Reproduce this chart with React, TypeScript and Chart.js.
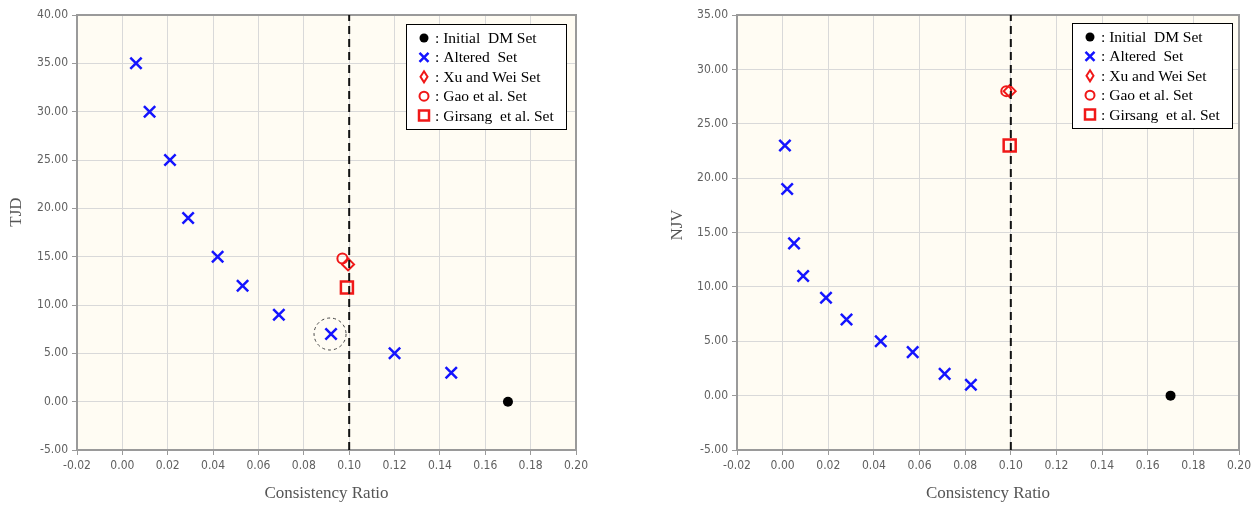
import React, { useEffect, useRef } from "react";
import { Chart, registerables } from "chart.js";

Chart.register(...registerables);

// ---------- data ----------
const xAxisTitle = "Consistency Ratio";
const leftYTitle = "TJD";
const rightYTitle = "NJV";
const thresholdCR = 0.1;

const leftInitialX = [0.17];
const leftInitialY = [0];
const leftAlteredX = [0.006, 0.012, 0.021, 0.029, 0.042, 0.053, 0.069, 0.092, 0.12, 0.145];
const leftAlteredY = [35, 30, 25, 19, 15, 12, 9, 7, 5, 3];
const leftXuWeiX = [0.0995];
const leftXuWeiY = [14.2];
const leftGaoX = [0.097];
const leftGaoY = [14.8];
const leftGirsangX = [0.099];
const leftGirsangY = [11.8];
const leftHighlightX = 0.092;
const leftHighlightY = 7;

const rightInitialX = [0.17];
const rightInitialY = [0];
const rightAlteredX = [0.001, 0.002, 0.005, 0.009, 0.019, 0.028, 0.043, 0.057, 0.071, 0.0825];
const rightAlteredY = [23, 19, 14, 11, 9, 7, 5, 4, 2, 1];
const rightXuWeiX = [0.0995];
const rightXuWeiY = [28];
const rightGaoX = [0.098];
const rightGaoY = [28];
const rightGirsangX = [0.0995];
const rightGirsangY = [23];

const legendLabels = [
  ": Initial  DM Set",
  ": Altered  Set",
  ": Xu and Wei Set",
  ": Gao et al. Set",
  ": Girsang  et al. Set",
];

// ---------- styles ----------
const tickFont = "'Liberation Sans Narrow', 'DejaVu Sans Condensed', 'Liberation Sans', sans-serif";
const serifFont = "'Liberation Serif', 'DejaVu Serif', serif";
const BLUE = "#1414ff";
const RED = "#f01818";

const pts = (xs: number[], ys: number[]) => xs.map((x, i) => ({ x, y: ys[i] }));

function drawMarker(ctx: CanvasRenderingContext2D, kind: number, x: number, y: number) {
  ctx.save();
  ctx.beginPath();
  if (kind === 0) {
    ctx.fillStyle = "#000";
    ctx.arc(x, y, 4.5, 0, Math.PI * 2);
    ctx.fill();
  } else if (kind === 1) {
    ctx.strokeStyle = BLUE;
    ctx.lineWidth = 2.5;
    ctx.moveTo(x - 4.5, y - 4.5);
    ctx.lineTo(x + 4.5, y + 4.5);
    ctx.moveTo(x + 4.5, y - 4.5);
    ctx.lineTo(x - 4.5, y + 4.5);
    ctx.stroke();
  } else if (kind === 2) {
    ctx.strokeStyle = RED;
    ctx.lineWidth = 2;
    ctx.moveTo(x, y - 5.5);
    ctx.lineTo(x + 3.5, y);
    ctx.lineTo(x, y + 5.5);
    ctx.lineTo(x - 3.5, y);
    ctx.closePath();
    ctx.stroke();
  } else if (kind === 3) {
    ctx.strokeStyle = RED;
    ctx.lineWidth = 2;
    ctx.arc(x, y, 4.5, 0, Math.PI * 2);
    ctx.stroke();
  } else {
    ctx.strokeStyle = RED;
    ctx.lineWidth = 2.5;
    ctx.rect(x - 5, y - 5, 10, 10);
    ctx.stroke();
  }
  ctx.restore();
}

function decorPlugin(
  legendOffR: number,
  legendOffT: number,
  highlight: { x: number; y: number } | null,
  yTitle: string,
  yTitleX: number,
  yTitleY: number
) {
  return {
    id: "decor",
    beforeDraw(chart: any) {
      const { ctx, chartArea: a } = chart;
      ctx.save();
      ctx.fillStyle = "#fffcf3";
      ctx.fillRect(a.left, a.top, a.right - a.left, a.bottom - a.top);
      ctx.restore();
    },
    beforeDatasetsDraw(chart: any) {
      const { ctx, chartArea: a } = chart;
      ctx.save();
      ctx.strokeStyle = "#9a9a9a";
      ctx.lineWidth = 2;
      ctx.beginPath();
      ctx.moveTo(a.left, a.top);
      ctx.lineTo(a.right, a.top);
      ctx.lineTo(a.right, a.bottom);
      ctx.stroke();
      ctx.restore();
    },
    afterDatasetsDraw(chart: any) {
      if (!highlight) return;
      const { ctx, scales } = chart;
      const cx = scales.x.getPixelForValue(highlight.x);
      const cy = scales.y.getPixelForValue(highlight.y);
      ctx.save();
      ctx.strokeStyle = "#444";
      ctx.lineWidth = 1;
      ctx.setLineDash([3, 3]);
      ctx.beginPath();
      ctx.arc(cx - 1, cy, 16, 0, Math.PI * 2);
      ctx.stroke();
      ctx.restore();
    },
    afterDraw(chart: any) {
      const { ctx, chartArea: a } = chart;
      // y axis title
      ctx.save();
      ctx.translate(yTitleX, yTitleY);
      ctx.rotate(-Math.PI / 2);
      ctx.font = `17px ${serifFont}`;
      ctx.fillStyle = "#555";
      ctx.textAlign = "center";
      ctx.textBaseline = "middle";
      ctx.fillText(yTitle, 0, 0);
      ctx.restore();

      // legend
      const w = 160;
      const h = 105;
      const bx = Math.round(a.right - legendOffR - w);
      const by = Math.round(a.top + legendOffT);
      ctx.save();
      ctx.fillStyle = "#ffffff";
      ctx.fillRect(bx, by, w, h);
      ctx.strokeStyle = "#000";
      ctx.lineWidth = 1;
      ctx.strokeRect(bx + 0.5, by + 0.5, w, h);
      ctx.font = `15.5px ${serifFont}`;
      ctx.textBaseline = "middle";
      ctx.textAlign = "left";
      legendLabels.forEach((label, i) => {
        const cy = by + 14 + i * 19.4;
        drawMarker(ctx, i, bx + 18, cy);
        ctx.fillStyle = "#000";
        ctx.fillText(label, bx + 29, cy + 1);
      });
      ctx.restore();
    },
  };
}

interface Panel {
  initial: { x: number; y: number }[];
  altered: { x: number; y: number }[];
  xuwei: { x: number; y: number }[];
  gao: { x: number; y: number }[];
  girsang: { x: number; y: number }[];
  yMin: number;
  yMax: number;
  yTitle: string;
  yTitleX: number;
  yTitleY: number;
  padRight: number;
  legendOffR: number;
  legendOffT: number;
  highlight: { x: number; y: number } | null;
}

function makeConfig(p: Panel): any {
  return {
    type: "scatter",
    data: {
      datasets: [
        {
          label: "threshold",
          data: [
            { x: thresholdCR, y: p.yMin },
            { x: thresholdCR, y: p.yMax },
          ],
          showLine: true,
          borderColor: "#111",
          borderWidth: 2,
          borderDash: [8, 5],
          pointRadius: 0,
        },
        {
          label: "Xu and Wei",
          data: p.xuwei,
          pointStyle: "rectRot",
          pointRadius: 6,
          borderColor: RED,
          backgroundColor: "rgba(0,0,0,0)",
          borderWidth: 2,
        },
        {
          label: "Gao",
          data: p.gao,
          pointStyle: "circle",
          pointRadius: 5,
          borderColor: RED,
          backgroundColor: "rgba(0,0,0,0)",
          borderWidth: 2,
        },
        {
          label: "Girsang",
          data: p.girsang,
          pointStyle: "rect",
          pointRadius: 8.5,
          borderColor: RED,
          backgroundColor: "rgba(0,0,0,0)",
          borderWidth: 2.5,
        },
        {
          label: "Altered",
          data: p.altered,
          pointStyle: "crossRot",
          pointRadius: 8,
          borderColor: BLUE,
          borderWidth: 2.5,
        },
        {
          label: "Initial",
          data: p.initial,
          pointStyle: "circle",
          pointRadius: 5,
          borderColor: "#000",
          backgroundColor: "#000",
          borderWidth: 0,
        },
      ],
    },
    options: {
      responsive: false,
      animation: false,
      events: [],
      layout: { padding: { left: 0, right: p.padRight, top: 15, bottom: 0 } },
      plugins: { legend: { display: false }, tooltip: { enabled: false } },
      scales: {
        x: {
          type: "linear",
          min: -0.02,
          max: 0.2,
          ticks: {
            stepSize: 0.02,
            autoSkip: false,
            maxRotation: 0,
            padding: 4,
            color: "#606060",
            font: { family: tickFont, size: 12 },
            callback: (v: any) => Number(v).toFixed(2),
          },
          grid: { color: "#d9d9d9", lineWidth: 1, tickLength: 5, tickColor: "#9a9a9a" },
          border: { color: "#9a9a9a", width: 2 },
          title: {
            display: true,
            text: xAxisTitle,
            color: "#555",
            font: { family: serifFont, size: 17 },
            padding: { top: 0, bottom: 2 },
          },
          afterFit: (s: any) => {
            s.height = 56;
          },
        },
        y: {
          type: "linear",
          min: p.yMin,
          max: p.yMax,
          ticks: {
            stepSize: 5,
            padding: 4,
            color: "#606060",
            font: { family: tickFont, size: 12 },
            callback: (v: any) => Number(v).toFixed(2),
          },
          grid: { color: "#d9d9d9", lineWidth: 1, tickLength: 5, tickColor: "#9a9a9a" },
          border: { color: "#9a9a9a", width: 2 },
          title: { display: false },
          afterFit: (s: any) => {
            s.width = 77;
          },
        },
      },
    },
    plugins: [decorPlugin(p.legendOffR, p.legendOffT, p.highlight, p.yTitle, p.yTitleX, p.yTitleY)],
  };
}

const leftPanel: Panel = {
  initial: pts(leftInitialX, leftInitialY),
  altered: pts(leftAlteredX, leftAlteredY),
  xuwei: pts(leftXuWeiX, leftXuWeiY),
  gao: pts(leftGaoX, leftGaoY),
  girsang: pts(leftGirsangX, leftGirsangY),
  yMin: -5,
  yMax: 40,
  yTitle: leftYTitle,
  yTitleX: 17,
  yTitleY: 212,
  padRight: 44,
  legendOffR: 10,
  legendOffT: 9,
  highlight: { x: leftHighlightX, y: leftHighlightY },
};

const rightPanel: Panel = {
  initial: pts(rightInitialX, rightInitialY),
  altered: pts(rightAlteredX, rightAlteredY),
  xuwei: pts(rightXuWeiX, rightXuWeiY),
  gao: pts(rightGaoX, rightGaoY),
  girsang: pts(rightGirsangX, rightGirsangY),
  yMin: -5,
  yMax: 35,
  yTitle: rightYTitle,
  yTitleX: 18,
  yTitleY: 225,
  padRight: 20,
  legendOffR: 7,
  legendOffT: 8,
  highlight: null,
};

function ChartCanvas({ panel, width, left }: { panel: Panel; width: number; left: number }) {
  const ref = useRef<HTMLCanvasElement>(null);
  useEffect(() => {
    if (!ref.current) return;
    const chart = new Chart(ref.current, makeConfig(panel));
    return () => chart.destroy();
  }, [panel]);
  return (
    <canvas
      ref={ref}
      width={width}
      height={506}
      style={{ position: "absolute", left, top: 0, width, height: 506 }}
    />
  );
}

export default function App() {
  return (
    <div
      style={{
        position: "fixed",
        left: 0,
        top: 0,
        width: 1259,
        height: 506,
        background: "#ffffff",
        overflow: "hidden",
      }}
    >
      <ChartCanvas panel={leftPanel} width={620} left={0} />
      <ChartCanvas panel={rightPanel} width={599} left={660} />
    </div>
  );
}
